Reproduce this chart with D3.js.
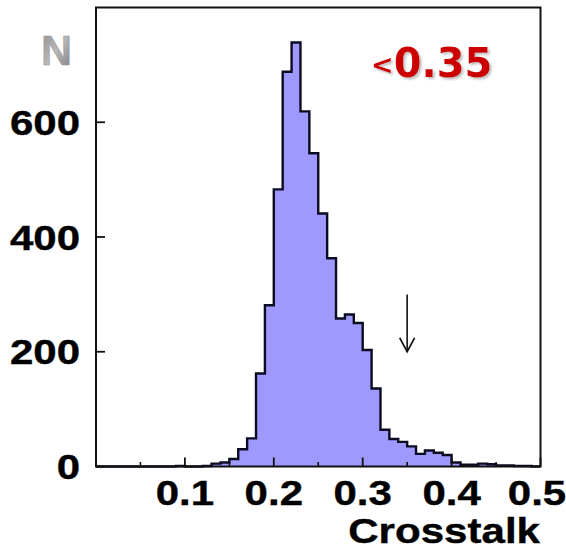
<!DOCTYPE html>
<html>
<head>
<meta charset="utf-8">
<script src="https://cdn.jsdelivr.net/npm/d3@7"></script>
<style>
  html, body { margin: 0; padding: 0; background: #fff; }
  svg { display: block; }
</style>
</head>
<body>
<svg id="chart" width="566" height="549"></svg>
<script>
// Crosstalk distribution, bins of width 0.01 from 0 to 0.5
const binWidth = 0.01;
const counts = [
  0, 0, 0, 0, 0, 0, 0, 0, 0, 1,
  0, 0, 1, 5, 7, 13, 30, 49, 162, 281,
  483, 688, 739, 619, 546, 441, 363, 258, 265, 250,
  203, 136, 64, 48, 43, 35, 22, 28, 24, 20,
  7, 3, 3, 5, 4, 2, 2, 1, 1, 0
];
const xTicks = [0.1, 0.2, 0.3, 0.4, 0.5];
const xMinorTicks = [0.05, 0.15, 0.25, 0.35, 0.45];
const yTicks = [0, 200, 400, 600];
const cutValue = 0.35;          // selection threshold marked by the arrow
const cutArrow = [300, 200];    // arrow runs from N=300 down to N=200
const cutLabel = "0.35";

const svg = d3.select("#chart");
const defs = svg.append("defs");
const x = d3.scaleLinear().domain([0, 0.5]).range([96, 540.5]);
const y = d3.scaleLinear().domain([0, 800]).range([466.5, 7.5]);

const points = counts.map((c, i) => [i * binWidth, c]);
points.push([counts.length * binWidth, counts[counts.length - 1]]);

// filled histogram
svg.append("path")
  .datum(points)
  .attr("fill", "#9f99fd")
  .attr("d", d3.area().curve(d3.curveStepAfter)
    .x(d => x(d[0])).y0(y(0)).y1(d => y(d[1])));

// histogram outline
svg.append("path")
  .datum(points)
  .attr("fill", "none")
  .attr("stroke", "#0b0b22")
  .attr("stroke-width", 2.4)
  .attr("stroke-linejoin", "miter")
  .attr("d", d3.line().curve(d3.curveStepAfter)
    .x(d => x(d[0])).y(d => y(d[1])));

// frame
svg.append("rect")
  .attr("x", x(0)).attr("y", y(800))
  .attr("width", x(0.5) - x(0)).attr("height", y(0) - y(800))
  .attr("fill", "none").attr("stroke", "#111").attr("stroke-width", 2);

// x ticks (inside the frame)
svg.selectAll(".xt").data(xTicks).join("line")
  .attr("x1", d => x(d)).attr("x2", d => x(d))
  .attr("y1", y(0)).attr("y2", y(0) - 9)
  .attr("stroke", "#111").attr("stroke-width", 1.8);
svg.selectAll(".xm").data(xMinorTicks).join("line")
  .attr("x1", d => x(d)).attr("x2", d => x(d))
  .attr("y1", y(0)).attr("y2", y(0) - 4.5)
  .attr("stroke", "#111").attr("stroke-width", 1.6);

// y ticks
svg.selectAll(".yt").data(yTicks).join("line")
  .attr("x1", x(0)).attr("x2", x(0) + 9)
  .attr("y1", d => y(d)).attr("y2", d => y(d))
  .attr("stroke", "#111").attr("stroke-width", 1.8);

const labelFont = "'Liberation Sans', Arial, Helvetica, sans-serif";

// x tick labels
svg.selectAll(".xl").data(xTicks).join("text")
  .attr("transform", d => `translate(${Math.min(x(d), 537)},505) scale(1.2,1)`)
  .attr("text-anchor", "middle")
  .attr("font-family", labelFont).attr("font-weight", "bold")
  .attr("font-size", 35).attr("fill", "#000")
  .attr("stroke", "#000").attr("stroke-width", 0.4)
  .text(d => d3.format(".1f")(d));

// y tick labels
svg.selectAll(".yl").data(yTicks).join("text")
  .attr("transform", d => `translate(80,${y(d) + 12.5}) scale(1.2,1)`)
  .attr("text-anchor", "end")
  .attr("font-family", labelFont).attr("font-weight", "bold")
  .attr("font-size", 35).attr("fill", "#000")
  .attr("stroke", "#000").attr("stroke-width", 0.4)
  .text(d => d);

// axis titles
svg.append("text")
  .attr("transform", "translate(540,543) scale(1.17,1)")
  .attr("text-anchor", "end")
  .attr("font-family", labelFont).attr("font-weight", "bold")
  .attr("font-size", 36).attr("fill", "#000")
  .attr("stroke", "#000").attr("stroke-width", 0.4)
  .text("Crosstalk");

const grad = defs.append("linearGradient")
  .attr("id", "ngrad").attr("x1", 0).attr("y1", 0).attr("x2", 1).attr("y2", 1);
grad.append("stop").attr("offset", "0%").attr("stop-color", "#8a8a8a");
grad.append("stop").attr("offset", "50%").attr("stop-color", "#b9b9b9");
grad.append("stop").attr("offset", "100%").attr("stop-color", "#7a7a7a");

svg.append("text")
  .attr("x", 41).attr("y", 65)
  .attr("font-family", labelFont).attr("font-weight", "bold")
  .attr("font-size", 43).attr("fill", "url(#ngrad)")
  .attr("stroke", "#9a9a9a").attr("stroke-width", 0.6)
  .text("N");

// cut arrow
const ax = x(cutValue);
const yTop = y(cutArrow[0]), yBot = y(cutArrow[1]);
svg.append("line")
  .attr("x1", ax).attr("x2", ax).attr("y1", yTop).attr("y2", yBot)
  .attr("stroke", "#111").attr("stroke-width", 1.6);
svg.append("path")
  .attr("d", `M${ax - 7.5},${yBot - 14} L${ax},${yBot} L${ax + 7.5},${yBot - 14}`)
  .attr("fill", "none").attr("stroke", "#111").attr("stroke-width", 1.6);

// cut annotation with a soft drop shadow
defs.append("filter").attr("id", "shadow")
  .attr("x", "-10%").attr("y", "-20%").attr("width", "130%").attr("height", "150%")
  .append("feDropShadow")
  .attr("dx", 2).attr("dy", 2).attr("stdDeviation", 0.8)
  .attr("flood-color", "#999").attr("flood-opacity", 0.6);

const cut = svg.append("text")
  .attr("x", 371).attr("y", 77)
  .attr("font-family", "'DejaVu Sans', Verdana, sans-serif")
  .attr("font-weight", "bold")
  .attr("font-size", 40).attr("fill", "#cc0000")
  .attr("filter", "url(#shadow)");
cut.append("tspan").attr("font-size", 27).attr("dy", -3).text("<");
cut.append("tspan").attr("dy", 3).text(cutLabel);
</script>
</body>
</html>
